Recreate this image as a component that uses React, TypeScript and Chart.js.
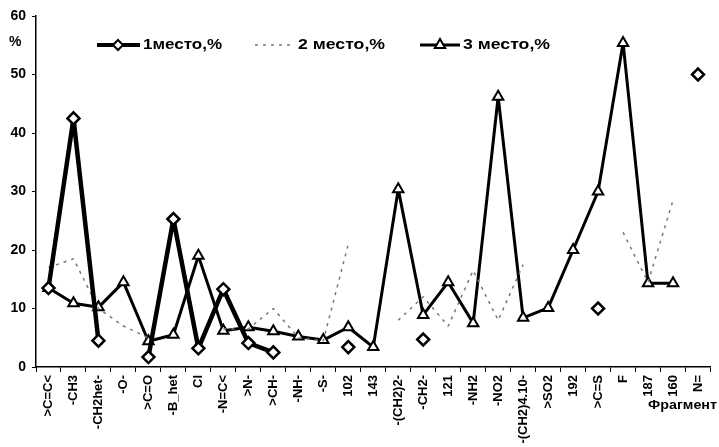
import React, { useEffect, useRef } from "react";
import { Chart, registerables } from "chart.js";

Chart.register(...registerables);

const categories = [
  ">C=C<", "-CH3", "-CH2het-", "-O-", ">C=O", "-B_het", "Cl", "-N=C<", ">N-", ">CH-",
  "-NH-", "-S-", "102", "143", "-(CH2)2-", "-CH2-", "121", "-NH2", "-NO2", "-(CH2)4.10-",
  ">SO2", "192", ">C=S", "F", "187", "160", "N=",
];

const place1: (number | null)[] = [
  13.5, 42.5, 4.5, null, 1.7, 25.3, 3.2, 13.3, 4.1, 2.5,
  null, null, 3.4, null, null, 4.7, null, null, null, null,
  null, null, 10, null, null, null, 50,
];

const place2: (number | null)[] = [
  17, 18.5, 10, 7, 5, null, null, 6.5, 6.5, 10,
  5, 4.5, 21, null, 8, 12, 7, 16.5, 8, 17.5,
  null, null, null, 23, 14.5, 28.5, null,
];

const place3: (number | null)[] = [
  13.5, 10.9, 10.2, 14.5, 4.4, 5.5, 19, 6.2, 6.8, 6.1,
  5.2, 4.6, 6.8, 3.4, 30.4, 8.9, 14.5, 7.5, 46.2, 8.4,
  10.1, 20, 30, 55.4, 14.3, 14.3, null,
];

const seriesNames = ["1место,%", "2 место,%", "3 место,%"];
const yMin = 0;
const yMax = 60;
const yStep = 10;
const yTitle = "%";
const xTitle = "Фрагмент";

const FONT = '"Liberation Sans", Arial, Helvetica, sans-serif';

function drawScaledText(ctx: CanvasRenderingContext2D, text: string, x: number, y: number, targetW: number) {
  const w = ctx.measureText(text).width;
  ctx.save();
  ctx.translate(x, y);
  ctx.scale(targetW / w, 1);
  ctx.fillText(text, 0, 0);
  ctx.restore();
}

function diamond(ctx: CanvasRenderingContext2D, x: number, y: number, r: number, lw: number) {
  ctx.beginPath();
  ctx.moveTo(x - r, y);
  ctx.lineTo(x, y - r);
  ctx.lineTo(x + r, y);
  ctx.lineTo(x, y + r);
  ctx.closePath();
  ctx.fillStyle = "#fff";
  ctx.fill();
  ctx.lineWidth = lw;
  ctx.strokeStyle = "#000";
  ctx.stroke();
}

function triangle(ctx: CanvasRenderingContext2D, x: number, y: number, r: number, lw: number) {
  ctx.beginPath();
  ctx.moveTo(x, y - r);
  ctx.lineTo(x + r * 0.866, y + r * 0.5);
  ctx.lineTo(x - r * 0.866, y + r * 0.5);
  ctx.closePath();
  ctx.fillStyle = "#fff";
  ctx.fill();
  ctx.lineWidth = lw;
  ctx.strokeStyle = "#000";
  ctx.stroke();
}

const overlayPlugin = {
  id: "overlay",
  afterDraw(chart: any) {
    const ctx: CanvasRenderingContext2D = chart.ctx;
    ctx.save();
    const ly = 45;
    ctx.strokeStyle = "#000";
    ctx.lineWidth = 4;
    ctx.beginPath();
    ctx.moveTo(97, ly);
    ctx.lineTo(140, ly);
    ctx.stroke();
    diamond(ctx, 118, ly, 5, 2);

    ctx.strokeStyle = "#777";
    ctx.lineWidth = 1.5;
    ctx.setLineDash([3, 5]);
    ctx.beginPath();
    ctx.moveTo(255, ly);
    ctx.lineTo(292, ly);
    ctx.stroke();
    ctx.setLineDash([]);

    ctx.strokeStyle = "#000";
    ctx.lineWidth = 3;
    ctx.beginPath();
    ctx.moveTo(420, ly);
    ctx.lineTo(460, ly);
    ctx.stroke();
    triangle(ctx, 440, ly, 6, 2);

    ctx.fillStyle = "#000";
    ctx.font = `bold 14px ${FONT}`;
    ctx.textBaseline = "middle";
    ctx.textAlign = "left";
    drawScaledText(ctx, seriesNames[0], 143, ly, 79);
    drawScaledText(ctx, seriesNames[1], 298, ly, 87);
    drawScaledText(ctx, seriesNames[2], 463, ly, 87);

    ctx.font = `bold 14px ${FONT}`;
    ctx.fillText(yTitle, 9, 42);
    ctx.font = `bold 12px ${FONT}`;
    drawScaledText(ctx, xTitle, 648, 406, 69);
    ctx.restore();
  },
};

export default function App() {
  const ref = useRef<HTMLCanvasElement | null>(null);

  useEffect(() => {
    document.body.style.margin = "0";
    const canvas = ref.current;
    if (!canvas) return;
    const chart = new Chart(canvas, {
      type: "line",
      data: {
        labels: categories,
        datasets: [
          {
            label: seriesNames[0],
            data: place1,
            borderColor: "#000",
            borderWidth: 4.5,
            borderJoinStyle: "round",
            pointStyle: "rectRot",
            pointRadius: 6,
            pointBorderWidth: 2.5,
            pointBackgroundColor: "#fff",
            pointBorderColor: "#000",
            tension: 0,
            spanGaps: false,
          },
          {
            label: seriesNames[1],
            data: place2,
            borderColor: "#777",
            borderWidth: 1.5,
            borderDash: [3, 5],
            borderJoinStyle: "round",
            pointRadius: 0,
            tension: 0,
            spanGaps: false,
          },
          {
            label: seriesNames[2],
            data: place3,
            borderColor: "#000",
            borderWidth: 3,
            borderJoinStyle: "round",
            pointStyle: "triangle",
            pointRadius: 6,
            pointBorderWidth: 2,
            pointBackgroundColor: "#fff",
            pointBorderColor: "#000",
            tension: 0,
            spanGaps: false,
          },
        ],
      },
      options: {
        responsive: false,
        animation: false,
        devicePixelRatio: 1,
        layout: { padding: { top: 16, right: 0, left: 0, bottom: 0 } },
        plugins: {
          legend: { display: false },
          tooltip: { enabled: false },
        },
        scales: {
          x: {
            type: "category",
            offset: true,
            afterFit: (s: any) => {
              s.height = 80;
            },
            grid: {
              display: true,
              drawOnChartArea: false,
              offset: true,
              tickLength: 5,
              color: "#000",
              lineWidth: 1,
            },
            border: { display: true, color: "#000", width: 1.5 },
            ticks: {
              autoSkip: false,
              minRotation: 90,
              maxRotation: 90,
              padding: 3,
              color: "#000",
              font: { family: FONT, size: 13, weight: "bold" },
            },
          },
          y: {
            min: yMin,
            max: yMax,
            afterFit: (s: any) => {
              s.width = 36;
            },
            grid: {
              display: true,
              drawOnChartArea: false,
              tickLength: 4,
              color: "#000",
              lineWidth: 1,
            },
            border: { display: true, color: "#000", width: 1.5 },
            ticks: {
              stepSize: yStep,
              padding: 6,
              color: "#000",
              font: { family: FONT, size: 14, weight: "bold" },
            },
          },
        },
      },
      plugins: [overlayPlugin],
    });
    return () => chart.destroy();
  }, []);

  return (
    <div style={{ width: 719, height: 447, background: "#fff" }}>
      <canvas ref={ref} width={719} height={447} style={{ width: 719, height: 447, display: "block" }} />
    </div>
  );
}
